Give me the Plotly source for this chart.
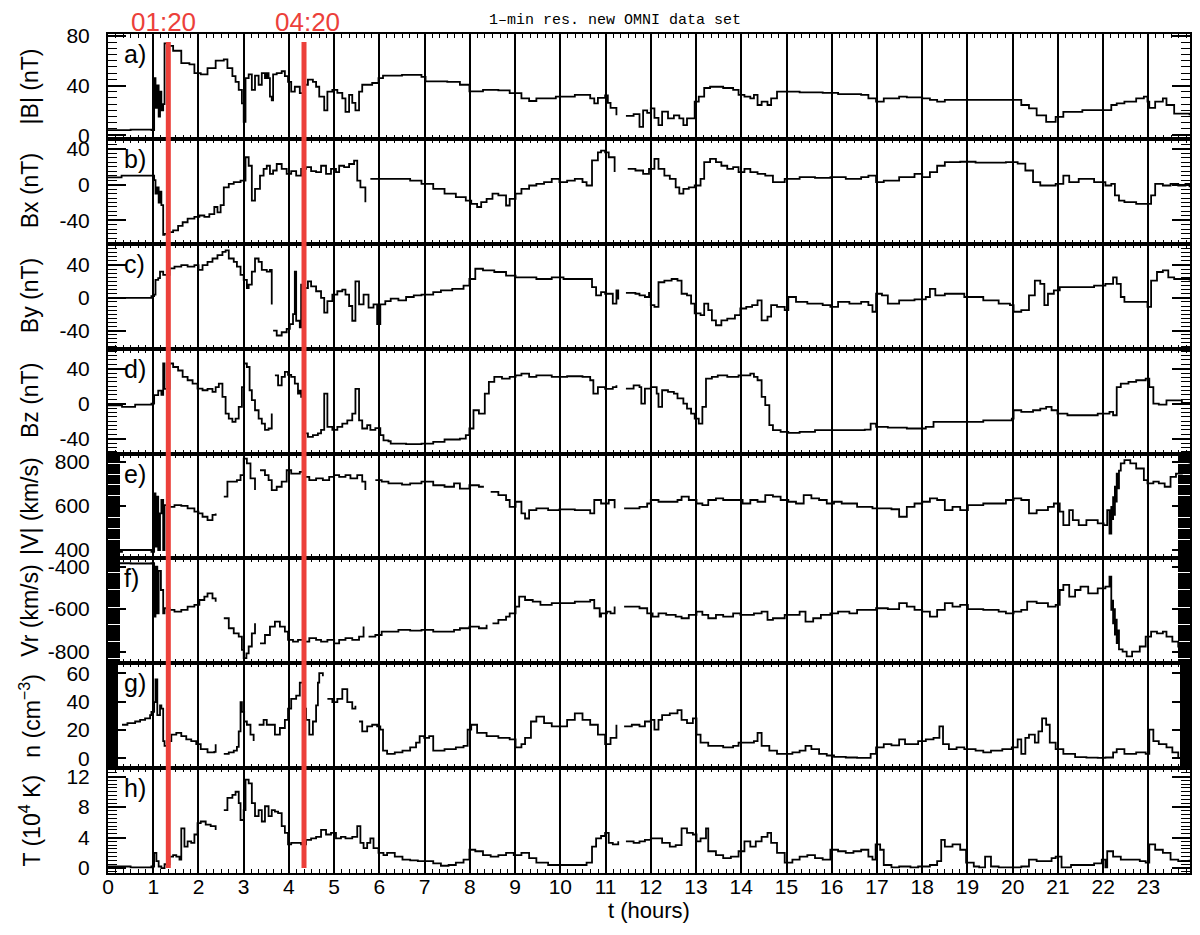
import plotly.graph_objects as go
from plotly.subplots import make_subplots

# ---------------- data ----------------
RED_TIMES = [1 + 20 / 60, 4 + 20 / 60]
RED_LABELS = ["01:20", "04:20"]
PANEL_LETTERS = ["a)", "b)", "c)", "d)", "e)", "f)", "g)", "h)"]
Y_TITLES = ["|B| (nT)", "Bx (nT)", "By (nT)", "Bz (nT)", "|V| (km/s)",
            "Vr (km/s)", "n (cm<sup>−3</sup>)", "T (10<sup>4</sup> K)"]
Y_TICKS = [[0, 40, 80], [-40, 0, 40], [-40, 0, 40], [-40, 0, 40],
           [400, 600, 800], [-800, -600, -400], [0, 20, 40, 60], [0, 4, 8, 12]]
X_TICKS = list(range(24))
TITLE = "1–min res. new OMNI data set"
X_TITLE = "t (hours)"

B_TOTAL = [(0.0,4),(0.5,4.5),(0.96,4),(1.02,46),(1.05,22),(1.09,40),(1.12,15),(1.15,35),(1.18,20),(1.22,25),
(1.25,74),(1.33,72),(1.44,68),(1.55,68),(1.62,58),(1.8,57),(1.91,50),(2.05,49),(2.2,54),(2.38,60),
(2.56,61),(2.64,54),(2.75,47.5),(2.82,43),(2.89,36.5),(2.96,25.6),(3.0,10.7),(3.04,46),(3.11,49),(3.18,36.5),
(3.25,48),(3.33,40.6),(3.4,50),(3.47,46),(3.51,50),(3.55,46),(3.58,31),(3.62,28),(3.65,49),(3.73,50),
(3.84,51.5),(3.91,47.5),(3.98,43),(4.05,35),(4.13,39),(4.24,33.8),(4.35,40.6),(4.42,44.7),(4.53,43),(4.6,39),
(4.67,31),(4.78,20),(4.85,35),(4.96,36.5),(5.07,34),(5.18,29.7),(5.25,18.8),(5.33,32.5),(5.4,26),(5.47,20),
(5.55,35),(5.62,40.6),(5.84,42),(5.98,46),(6.08,48),(6.5,48.5),(6.93,47),(7.02,43.4),(7.5,43),(7.78,40.6),
(7.99,35.2),(8.29,36.5),(8.63,36),(8.88,33.8),(9.14,29.7),(9.31,27.5),(9.47,29.7),(9.9,31),(10.32,32.5),(10.66,29.7),
(10.75,25.6),(10.83,30),(10.99,32),(11.05,26),(11.11,22),(11.24,16),(11.35,None),(11.45,15.6),(11.62,17),(11.75,6.6),(11.83,20),
(11.92,18),(12.0,21.6),(12.08,14),(12.17,8),(12.25,19),(12.38,13.5),(12.51,16),(12.63,13.5),(12.72,8),(12.8,13.5),
(12.89,13.5),(12.97,27),(13.06,31),(13.18,38),(13.31,39),(13.44,39),(13.6,38),(13.82,36.5),(13.94,32.5),(14.07,31),
(14.2,29.7),(14.28,32.5),(14.36,24.3),(14.45,27),(14.58,24.3),(14.66,29.7),(14.79,35),(14.96,35),(15.29,34.5),(15.8,34),
(16.14,33),(16.65,32.5),(16.81,29.7),(16.98,27),(17.15,29.7),(17.49,31),(17.66,30.5),(18.0,29.7),(18.17,28.5),(18.33,27),
(18.5,28.4),(19.35,28.4),(19.98,28.4),(20.19,24.3),(20.36,21.6),(20.53,16),(20.74,10.7),(20.95,14.7),(21.12,18.8),(21.54,20.2),
(22.05,20.2),(22.18,24.3),(22.3,25.6),(22.47,27),(22.73,29.7),(22.9,31),(22.98,27),(23.02,22),(23.15,27),(23.32,29.7),
(23.4,24.3),(23.57,17.4),(23.91,16)]

B_X = [(0.0,8),(0.3,10),(0.96,10),(1.02,5),(1.05,-10),(1.09,-3),(1.12,-20),(1.15,-8),(1.18,-23),(1.22,-56),
(1.25,-55),(1.33,-53),(1.44,-51),(1.55,-46),(1.65,-42),(1.76,-38),(1.91,-36),(2.02,-34.5),(2.13,-36),(2.24,-33),
(2.35,-25),(2.42,-31),(2.49,-23),(2.56,-3),(2.67,0.8),(2.78,2.7),(2.93,4.5),(3.04,30.5),(3.11,21),(3.18,-17.8),
(3.25,-4.8),(3.36,10),(3.44,17.5),(3.51,21),(3.58,12),(3.65,15.7),(3.73,23),(3.84,17.5),(3.95,12),(4.05,15),
(4.16,10),(4.27,17.5),(4.38,19.4),(4.49,15),(4.6,13.8),(4.71,21),(4.82,12),(4.93,17.5),(5.04,13.8),(5.11,21),
(5.22,19.4),(5.33,23),(5.44,26.8),(5.51,4.5),(5.58,-3),(5.69,-19.6),(5.75,None),(5.8,6.4),(5.91,6.4),(6.02,6.4),(6.2,6.4),
(6.51,6.4),(6.68,4.5),(6.93,0.8),(7.19,-4.8),(7.44,-10),(7.69,-14),(7.91,-17.8),(8.03,-21.5),(8.16,-25),(8.25,-19.6),
(8.37,-16),(8.5,-10),(8.63,-12),(8.8,-23.3),(8.88,-16),(9.01,-10),(9.14,-4.8),(9.31,-1),(9.47,0.8),(9.64,2.7),
(9.81,6.4),(9.98,2.7),(10.15,4.5),(10.32,6.4),(10.49,2.7),(10.58,-1),(10.7,27),(10.83,36),(10.9,38),(10.99,36),
(11.07,30.5),(11.2,14),(11.35,None),(11.49,17.5),(11.66,15.7),(11.83,12),(11.96,17.5),(12.08,28.7),(12.17,17.5),(12.3,10),(12.42,6.4),
(12.55,-3),(12.63,-10),(12.72,-4.8),(12.84,-3),(12.97,-1),(13.1,6.4),(13.18,25),(13.31,28.7),(13.44,25),(13.56,21),
(13.69,17.5),(13.82,19.4),(13.94,14),(14.07,17.5),(14.2,14),(14.36,12),(14.53,10),(14.7,2.7),(14.96,6.4),(15.29,8.3),
(15.63,7.5),(15.97,8.3),(16.31,6.4),(16.65,8.3),(16.81,10),(16.98,2.7),(17.15,4.5),(17.49,8.3),(17.83,12),(18.0,8.3),
(18.17,14),(18.33,21),(18.5,25),(18.84,25.5),(19.18,24.5),(19.85,25),(20.11,23.5),(20.28,15.7),(20.45,2.7),(20.61,-1),
(20.95,0.8),(21.12,10),(21.25,2.7),(21.46,6.4),(21.8,2.7),(22.05,-1),(22.18,0.8),(22.26,-12),(22.35,-17.8),(22.47,-19.6),
(22.73,-21.5),(22.98,-21.5),(23.06,-12),(23.15,0.8),(23.32,-1),(23.49,0.8),(23.66,-1),(23.82,0.8),(23.91,-3)]

B_Y = [(0.0,0),(0.5,0),(0.96,2),(1.02,4),(1.05,22),(1.11,24),(1.15,32),(1.22,28),(1.36,36),(1.47,38),
(1.62,40),(1.76,38),(1.91,40),(2.0,34),(2.09,40),(2.2,44),(2.31,48),(2.42,52),(2.53,56),(2.6,58),
(2.67,48),(2.78,44),(2.85,38),(2.93,28),(3.0,22),(3.07,12),(3.11,16),(3.18,32),(3.25,48),(3.33,44),
(3.4,34),(3.51,32),(3.58,34),(3.62,-8),(3.63,None),(3.65,-40),(3.73,-46),(3.84,-42),(3.95,-38),(4.02,-32),(4.09,-20),
(4.13,32),(4.16,-28),(4.24,-36),(4.27,16),(4.35,12),(4.42,20),(4.49,14),(4.6,8),(4.71,0),(4.78,-18),
(4.85,-4),(4.96,4),(5.07,8),(5.18,10),(5.25,4),(5.33,-10),(5.4,-28),(5.47,20),(5.55,-8),(5.65,4),
(5.76,-12),(5.87,-8),(5.95,-32),(6.02,-8),(6.13,-4),(6.25,-1),(6.42,-3),(6.59,1),(6.76,3),(6.93,4),
(7.19,7),(7.36,9),(7.61,11),(7.86,15),(7.99,23),(8.12,35.5),(8.29,33.5),(8.54,31.5),(8.8,27),(9.01,25),
(9.22,25),(9.47,23),(9.81,25),(10.07,23),(10.32,23),(10.58,23),(10.7,13),(10.79,3),(10.9,7),(10.99,5),
(11.16,-7),(11.24,9),(11.28,-2),(11.35,None),(11.45,6),(11.66,5),(11.75,3),(11.87,1),(11.96,6),(12.0,-9),
(12.08,-11),(12.17,19),(12.3,21),(12.46,23),(12.59,21),(12.68,5),(12.8,3),(12.89,-7),(12.97,-19),(13.1,-21),
(13.18,-7),(13.27,-15),(13.35,-27.5),(13.44,-33.5),(13.56,-27.5),(13.69,-25.5),(13.86,-21),(13.98,-13),(14.11,-11),(14.24,-9),
(14.36,-3),(14.45,-27.5),(14.58,-23),(14.66,-9),(14.79,-11),(14.96,-15),(15.04,1),(15.21,-5),(15.46,-7),(15.8,-9),
(15.97,-11),(16.14,-5),(16.39,-7),(16.65,-5),(16.81,-9),(16.9,-17),(16.98,5),(17.11,3),(17.24,-7),(17.49,-3),
(17.83,-2),(18.08,1),(18.17,11),(18.29,3),(18.5,5),(18.93,1),(19.35,-3),(19.69,-7),(19.94,-9),(20.02,-17),
(20.19,-15),(20.36,3),(20.49,21),(20.61,17),(20.7,-9),(20.78,5),(20.91,9),(21.04,13),(21.46,13),(21.8,15),
(22.05,17),(22.22,25),(22.3,17),(22.39,1),(22.47,-5),(22.73,-5),(22.9,-5),(22.98,-11),(23.06,21),(23.19,31.5),
(23.32,33.5),(23.44,25),(23.57,23),(23.91,21)]

B_Z = [(0.0,-1.8),(0.31,-3.7),(0.6,-1),(0.96,0),(1.02,9.7),(1.11,15),(1.18,10),(1.22,46),(1.25,17),(1.36,46),
(1.44,42),(1.55,38),(1.65,30.6),(1.76,26.8),(1.87,23),(1.98,17.3),(2.09,15.4),(2.2,17),(2.31,13.5),(2.38,19),
(2.45,23),(2.53,7.8),(2.6,-11.3),(2.67,-17),(2.75,-20.8),(2.82,-17),(2.89,-3.7),(2.96,19),(3.01,46),(3.07,42),
(3.13,15.4),(3.18,4),(3.25,-7.5),(3.33,-17),(3.4,-22.7),(3.47,-30),(3.55,-28.4),(3.62,-11.3),(3.65,None),(3.69,32.5),(3.76,21),
(3.84,30.6),(3.91,36.3),(3.98,33),(4.05,30.6),(4.13,23),(4.2,11.6),(4.24,15),(4.27,7.8),(4.35,-34),(4.42,-38),
(4.53,-36),(4.64,-34),(4.71,-30),(4.78,11.6),(4.85,-26.5),(4.96,-30),(5.07,-26.5),(5.18,-22.7),(5.29,-19),(5.4,-11.3),
(5.47,17),(5.55,-19),(5.62,-28.4),(5.73,-24.6),(5.8,-30),(5.91,-28),(6.02,-36),(6.09,-42),(6.2,-43),(6.25,-45.6),
(6.59,-46.3),(6.93,-45.6),(7.19,-43.7),(7.44,-41),(7.78,-40),(7.91,-36),(7.99,-28.4),(8.08,-7.5),(8.2,-11.3),(8.33,11.6),
(8.42,24.9),(8.54,30.6),(8.71,28.7),(8.88,30.6),(9.01,32.5),(9.14,34.4),(9.31,30.6),(9.47,32.5),(9.81,30.6),(10.15,31.4),
(10.49,30.6),(10.66,26.8),(10.73,11.6),(10.83,19),(10.99,17),(11.16,19),(11.24,21),(11.35,None),(11.45,17.3),(11.62,21),(11.75,19),
(11.79,0),(11.87,17.3),(12.0,19),(12.13,11.6),(12.17,-3.7),(12.25,15.4),(12.38,13.5),(12.51,11.6),(12.59,6),(12.72,0.1),
(12.8,-5.6),(12.89,-11.3),(12.97,-17),(13.06,-22.7),(13.14,-3.7),(13.22,28.7),(13.35,30.6),(13.48,32.5),(13.69,30.6),(13.94,32.5),
(14.2,34.4),(14.28,30.6),(14.36,26.8),(14.45,7.8),(14.53,-1.7),(14.62,-24.6),(14.7,-30.3),(14.87,-32.2),(15.04,-33.4),(15.29,-32.2),
(15.63,-30.3),(16.31,-30.3),(16.73,-29.6),(16.86,-22.7),(16.98,-26.5),(17.24,-27.5),(17.66,-28.4),(18.08,-26.5),(18.25,-20.8),(18.5,-20.8),
(18.93,-20.8),(19.35,-19),(19.69,-19),(19.98,-17),(20.02,-7.5),(20.19,-9.4),(20.45,-7.5),(20.61,-5.6),(20.74,-3.7),(20.86,-7.5),
(20.99,-11.3),(21.21,-13.2),(21.54,-13.2),(21.88,-11.3),(22.14,-9.4),(22.22,-13.2),(22.3,19),(22.39,23),(22.56,25),(22.73,26.8),
(22.94,28.7),(23.02,19),(23.11,0),(23.23,-1),(23.4,3.9),(23.57,3.9),(23.74,1),(23.91,0)]

V_TOTAL = [(0.0,392),(0.31,400),(0.6,400),(0.96,392),(1.02,657),(1.05,415),(1.07,642),(1.11,400),(1.15,566),(1.18,627),
(1.22,400),(1.25,604),(1.36,596),(1.47,604),(1.62,600),(1.76,589),(1.91,574),(2.0,566),(2.09,551),(2.2,536),
(2.31,559),(2.38,566),(2.47,None),(2.56,642),(2.64,710),(2.75,710),(2.85,717),(2.93,740),(3.0,815),(3.07,793),(3.15,725),
(3.25,672),(3.3,None),(3.36,762),(3.47,740),(3.55,717),(3.62,672),(3.73,687),(3.84,710),(3.95,762),(4.05,747),(4.16,747),
(4.24,755),(4.35,732),(4.45,717),(4.6,725),(4.75,717),(4.89,732),(5.0,740),(5.11,732),(5.25,740),(5.36,725),
(5.51,740),(5.62,710),(5.69,672),(5.8,None),(5.91,717),(6.05,710),(6.2,702),(6.5,697),(6.68,702),(6.93,710),
(7.19,694),(7.44,687),(7.65,702),(7.78,679),(7.99,694),(8.2,687),(8.29,692),(8.38,None),(8.46,664),(8.63,649),(8.8,627),
(8.88,596),(9.01,619),(9.14,566),(9.22,543),(9.31,581),(9.47,589),(9.73,581),(9.98,584),(10.32,581),(10.66,566),
(10.75,627),(10.9,611),(11.07,627),(11.2,589),(11.3,None),(11.41,589),(11.58,589),(11.75,596),(11.92,611),(12.0,627),
(12.17,619),(12.42,619),(12.59,627),(12.68,642),(12.84,627),(13.01,611),(13.14,604),(13.27,627),(13.44,634),(13.6,627),
(13.86,627),(14.03,611),(14.2,627),(14.36,619),(14.53,649),(14.7,642),(14.87,627),(15.04,619),(15.21,611),(15.38,649),
(15.55,634),(15.72,627),(15.89,611),(16.05,619),(16.22,611),(16.39,611),(16.56,596),(16.73,596),(16.9,589),(17.07,589),
(17.32,585),(17.49,551),(17.66,596),(17.83,611),(18.0,619),(18.17,634),(18.33,627),(18.5,581),(18.67,596),(18.84,581),
(19.01,604),(19.35,611),(19.69,611),(19.85,627),(20.02,634),(20.19,627),(20.36,566),(20.53,581),(20.78,596),(20.91,611),
(21.04,574),(21.12,513),(21.25,581),(21.33,536),(21.46,513),(21.63,536),(21.88,521),(22.01,513),(22.09,581),(22.14,475),
(22.18,596),(22.2,540),(22.22,640),(22.24,560),(22.26,687),(22.28,620),(22.3,747),(22.32,680),(22.35,760),(22.39,793),
(22.47,808),(22.6,793),(22.73,770),(22.9,717),(22.98,702),(23.11,710),(23.23,702),(23.36,687),(23.49,732),(23.61,747),
(23.74,777),(23.91,793)]

V_R = [(0.0,-384),(0.5,-385),(0.96,-384),(1.02,-635),(1.05,-400),(1.09,-620),(1.12,-420),(1.17,-510),(1.22,-620),(1.25,-596),
(1.36,-604),(1.47,-612),(1.62,-604),(1.76,-588),(1.91,-580),(2.02,-557),(2.13,-541),(2.2,-526),(2.31,-549),(2.38,-565),
(2.47,None),(2.56,-643),(2.67,-690),(2.78,-714),(2.89,-730),(2.96,-792),(3.0,-831),(3.06,-808),(3.11,-776),(3.18,-714),(3.25,-667),
(3.3,None),(3.36,-761),(3.47,-722),(3.58,-682),(3.69,-659),(3.8,-682),(3.91,-706),(3.98,-745),(4.09,-753),(4.2,-745),(4.31,-753),
(4.45,-737),(4.6,-745),(4.71,-753),(4.85,-745),(5.0,-761),(5.11,-745),(5.25,-737),(5.4,-745),(5.55,-730),(5.65,-682),
(5.7,None),(5.76,-730),(5.91,-722),(6.05,-706),(6.2,-706),(6.42,-698),(6.68,-701),(6.93,-698),(7.19,-706),(7.44,-706),(7.65,-698),
(7.78,-690),(7.99,-682),(8.2,-690),(8.37,-674),(8.43,None),(8.5,-667),(8.63,-651),(8.8,-635),(8.88,-620),(9.01,-588),(9.09,-541),
(9.22,-557),(9.39,-565),(9.56,-580),(9.81,-572),(10.07,-572),(10.32,-565),(10.66,-557),(10.75,-596),(10.87,-635),(10.9,-620),
(11.03,-612),(11.11,-620),(11.2,-588),(11.3,None),(11.41,-588),(11.58,-588),(11.75,-596),(11.92,-620),(12.04,-635),(12.17,-620),
(12.34,-627),(12.55,-635),(12.68,-643),(12.84,-627),(13.01,-612),(13.14,-627),(13.27,-643),(13.44,-627),(13.6,-635),(13.82,-620),
(13.98,-627),(14.11,-627),(14.28,-620),(14.45,-612),(14.58,-651),(14.7,-643),(14.96,-627),(15.13,-627),(15.29,-612),(15.42,-659),
(15.59,-643),(15.76,-627),(15.97,-620),(16.14,-612),(16.39,-620),(16.56,-604),(16.73,-604),(16.98,-596),(17.24,-600),(17.49,-572),
(17.66,-588),(17.83,-604),(18.0,-612),(18.17,-635),(18.33,-604),(18.5,-572),(18.67,-588),(18.84,-580),(19.01,-600),(19.35,-604),
(19.69,-612),(19.85,-620),(20.02,-612),(20.19,-604),(20.32,-565),(20.53,-572),(20.78,-588),(20.95,-580),(21.04,-510),(21.12,-486),
(21.25,-541),(21.38,-510),(21.5,-494),(21.67,-526),(21.88,-502),(22.05,-494),(22.14,-447),(22.18,-604),(22.2,-560),(22.22,-667),
(22.24,-600),(22.26,-720),(22.28,-650),(22.3,-760),(22.33,-700),(22.35,-790),(22.43,-800),(22.52,-823),(22.64,-800),(22.81,-776),
(22.94,-730),(23.06,-706),(23.19,-714),(23.32,-706),(23.4,-730),(23.53,-753),(23.66,-776),(23.78,-792),(23.91,-808)]

DENSITY = [(0.31,23.6),(0.43,24.7),(0.6,25.9),(0.71,27),(0.82,28.1),(0.93,30.4),(0.96,32.7),(1.02,39.6),(1.05,55.6),(1.09,30.4),
(1.15,37.3),(1.18,35),(1.22,12.1),(1.25,8.7),(1.33,12.1),(1.4,16.7),(1.51,17.9),(1.62,15.6),(1.73,13.3),(1.84,12.1),
(1.95,9.9),(2.05,6.4),(2.2,4.1),(2.35,4.5),(2.38,9.9),(2.47,None),(2.56,3),(2.67,4.1),(2.78,5.3),(2.85,8),(2.89,19),
(2.93,39.6),(2.96,32.7),(3.01,25.9),(3.07,23.6),(3.15,16.7),(3.22,12.1),(3.27,None),(3.33,23.6),(3.44,27),(3.51,23.6),(3.62,23.6),
(3.69,16.7),(3.8,21.3),(3.91,27),(3.98,35),(4.05,41.9),(4.16,44.1),(4.24,53.3),(4.31,35),(4.38,27),(4.45,16.7),
(4.53,25.9),(4.6,37.3),(4.64,53.3),(4.67,60.1),(4.75,57.9),(4.8,None),(4.85,41.9),(4.96,39.6),(5.07,41.9),(5.18,48.7),(5.29,39.6),
(5.4,35),(5.47,37),(5.51,None),(5.55,25.9),(5.62,19),(5.73,22.4),(5.84,23.6),(5.95,22.4),(6.02,20.1),(6.08,5.3),(6.17,3),
(6.34,4.1),(6.51,5.3),(6.68,7.6),(6.81,11),(6.89,15.6),(6.99,14.4),(7.1,15.6),(7.19,5.3),(7.44,6.4),(7.69,7.6),
(7.86,8.7),(7.95,20.1),(8.03,23.6),(8.16,17.9),(8.37,15.6),(8.63,14.4),(8.88,13.3),(9.01,7.6),(9.14,9.9),(9.22,14.4),
(9.35,25.9),(9.47,29.3),(9.64,24.7),(9.81,22.4),(9.98,22.4),(10.15,27),(10.32,31.6),(10.49,27),(10.66,23.6),(10.83,16.7),
(10.99,9.9),(11.11,14.4),(11.24,23.6),(11.32,None),(11.41,22.4),(11.58,23.6),(11.75,22.4),(11.87,25.9),(12.0,27),(12.08,20.1),
(12.17,27),(12.25,30.4),(12.42,31.6),(12.59,33.9),(12.68,27),(12.8,24.7),(12.93,28.1),(13.01,16.7),(13.1,11),(13.27,8.7),
(13.44,8.7),(13.6,7.6),(13.82,8.7),(13.94,11),(14.11,11),(14.28,12.1),(14.36,17.9),(14.45,8.7),(14.62,5.3),(14.79,3),
(14.96,3),(15.13,4.1),(15.29,5.3),(15.42,8.7),(15.55,6.4),(15.72,3),(15.89,1.9),(16.05,1),(16.31,0.5),(16.56,0.3),
(16.73,0.2),(16.86,3),(16.98,7.6),(17.15,9.9),(17.32,9),(17.49,13.3),(17.62,9.9),(17.74,10),(17.91,12.1),(18.08,13.3),
(18.25,14.4),(18.38,22.4),(18.46,9.9),(18.59,6.4),(18.76,7.6),(18.93,6.4),(19.18,5.3),(19.35,4.1),(19.52,5.3),(19.77,6.4),
(19.98,7.6),(20.11,13.3),(20.19,3),(20.28,14.4),(20.36,16.7),(20.49,11),(20.57,19),(20.65,28.1),(20.74,23.6),(20.82,11),
(20.95,6.4),(21.12,3),(21.38,0.7),(21.63,0.4),(21.88,0.2),(22.05,0.5),(22.22,4.1),(22.3,6.4),(22.47,3),(22.73,4.1),
(22.94,3),(23.02,20.1),(23.11,12.1),(23.23,9.9),(23.4,7.6),(23.53,4.1),(23.66,0.5)]

TEMPERATURE = [(0.0,0.2),(0.5,0.1),(0.96,0.2),(1.02,2),(1.07,0.9),(1.12,0.2),(1.18,0),(1.25,0.5),(1.36,1.5),(1.44,1.7),
(1.51,1.5),(1.58,1.1),(1.62,5.2),(1.69,2.8),(1.76,3.5),(1.84,3.3),(1.91,4.4),(1.98,5.9),(2.05,6.1),(2.16,5.7),
(2.27,5.5),(2.38,5),(2.47,None),(2.56,7.6),(2.64,9.2),(2.75,9.6),(2.82,10),(2.89,8.5),(2.93,6.3),(3.0,7.6),(3.04,11.6),
(3.11,11.1),(3.18,8.5),(3.25,6.8),(3.33,7.6),(3.4,6.1),(3.47,8.1),(3.55,6.8),(3.62,7.6),(3.69,7.4),(3.76,7.2),
(3.84,5.5),(3.91,4.6),(3.98,3.1),(4.05,3.3),(4.16,3.3),(4.27,3.1),(4.38,3.7),(4.49,3.9),(4.6,4.1),(4.71,5),
(4.82,4.4),(4.93,4.6),(5.04,3.9),(5.15,4.1),(5.25,3.9),(5.4,4.1),(5.51,5.5),(5.58,3.3),(5.65,2.6),(5.73,3.3),
(5.8,3.9),(5.87,2.6),(5.98,2),(6.09,1.7),(6.17,2),(6.34,1.5),(6.51,1.1),(6.68,1.0),(6.85,0.9),(6.99,0.9),
(7.19,0.6),(7.36,0.3),(7.53,0.4),(7.69,0.7),(7.86,1.1),(7.99,2.4),(8.12,2.2),(8.29,1.7),(8.46,1.5),(8.63,1.7),
(8.8,2),(8.97,1.7),(9.14,2),(9.31,1.3),(9.47,0.7),(9.73,0.4),(9.98,0.4),(10.32,0.4),(10.58,0.7),(10.7,2.8),
(10.79,3.9),(10.9,4.2),(10.99,4.6),(11.07,3.3),(11.16,3.1),(11.28,3.5),(11.36,None),(11.45,3.5),(11.62,3.3),(11.75,3.5),(11.87,3.7),
(12.0,3.9),(12.13,3.9),(12.25,3.3),(12.42,2.8),(12.55,3),(12.68,5.2),(12.8,4.6),(12.93,4.4),(13.01,3.5),(13.1,3.9),
(13.22,5.2),(13.27,2.2),(13.44,1.7),(13.6,1.3),(13.77,1.5),(13.94,2.2),(14.07,3.5),(14.2,2.8),(14.32,3.5),(14.45,4.1),
(14.58,4.6),(14.66,3.3),(14.79,2),(14.96,0.7),(15.13,1.1),(15.29,1.5),(15.46,1.7),(15.63,1.3),(15.8,1.1),(15.97,2.4),
(16.14,2.2),(16.31,2),(16.48,2.2),(16.65,2.4),(16.81,1.5),(16.9,1.1),(16.97,3.1),(17.07,2.4),(17.15,0.4),(17.32,0.1),
(17.49,0.2),(17.74,0.1),(17.91,0.2),(18.17,0.4),(18.33,0.9),(18.42,3.7),(18.5,2.8),(18.67,3.1),(18.84,2.4),(18.97,0.7),
(19.14,0.2),(19.26,0.1),(19.39,1.5),(19.52,0.2),(19.69,0.1),(19.85,0.1),(19.98,0.1),(20.19,0.2),(20.36,1.1),(20.53,0.9),
(20.7,0.9),(20.86,1.3),(20.95,1.5),(21.08,0.1),(21.29,0.4),(21.54,0.4),(21.8,0.6),(21.97,1.1),(22.05,0.1),(22.09,2.2),
(22.22,1.5),(22.39,1.1),(22.64,1.1),(22.81,0.9),(22.94,0.7),(23.02,3.1),(23.15,2.4),(23.32,2),(23.49,1.1),(23.66,0.9),
(23.82,0.9),(23.91,1.1)]

SERIES = [B_TOTAL, B_X, B_Y, B_Z, V_TOTAL, V_R, DENSITY, TEMPERATURE]

# ---------------- styling ----------------
Y_RANGES = [[-3, 81.5], [-66, 51], [-62, 66], [-57, 63], [362, 838],
            [-855, -361], [-7, 67], [-0.65, 13.1]]
MINOR_DTICK = [5, 5, 5, 5, 5, 5, 0.25, 0.5]
MINOR_LEN = [9, 9, 9, 9, 12, 12, 10, 9]
X_RANGE = [0, 23.92]
RED_LABEL_DX = [-0.1, 0.07]
FONT = "Liberation Sans, Arial, sans-serif"
RED = "rgb(236,64,58)"

# The page body adds an 8 px offset; margins compensate so the plot area
# lands at x 108..1190, y 34..873 in the window.
BODY = 8
W, H = 1200, 935
PLOT_L, PLOT_R, PLOT_T, PLOT_B = 108, 1190, 34, 873
ML = PLOT_L - BODY
MT = PLOT_T - BODY
MR = W + BODY - PLOT_R
MB = H + BODY - PLOT_B
PW = PLOT_R - PLOT_L
PH = PLOT_B - PLOT_T

fig = make_subplots(rows=8, cols=1, shared_xaxes=True, vertical_spacing=0)

for i, pts in enumerate(SERIES):
    t = [p[0] for p in pts]
    v = [p[1] for p in pts]
    fig.add_trace(go.Scatter(x=t, y=v, mode="lines",
                             line=dict(color="black", width=1.8, shape="hv"),
                             connectgaps=False, showlegend=False, hoverinfo="skip"),
                  row=i + 1, col=1)
    fig.update_yaxes(row=i + 1, col=1, range=Y_RANGES[i], tickmode="array",
                     tickvals=Y_TICKS[i], ticktext=[str(k) for k in Y_TICKS[i]],
                     ticks="inside", ticklen=18, tickwidth=1.5, tickcolor="black",
                     showline=True, linewidth=2, linecolor="black", mirror="ticks",
                     zeroline=False, showgrid=False, ticklabelstandoff=12,
                     automargin=False,
                     tickfont=dict(family=FONT, size=21, color="black"),
                     minor=dict(tickmode="linear", tick0=0, dtick=MINOR_DTICK[i],
                                ticks="inside", ticklen=MINOR_LEN[i], tickwidth=1,
                                tickcolor="black", showgrid=False))

fig.update_xaxes(range=X_RANGE, tickmode="array", tickvals=X_TICKS,
                 showgrid=True, gridcolor="black", gridwidth=2,
                 ticks="inside", ticklen=5, tickwidth=1.5, tickcolor="black",
                 showline=True, linewidth=2, linecolor="black", mirror="ticks",
                 zeroline=False, automargin=False,
                 minor=dict(tickmode="linear", tick0=0, dtick=1 / 6, ticks="inside",
                            ticklen=4, tickwidth=1, tickcolor="black", showgrid=False))
fig.update_xaxes(row=8, col=1, showticklabels=True, ticklabelstandoff=-6,
                 tickfont=dict(family=FONT, size=21, color="black"),
                 title=dict(text=X_TITLE, font=dict(family=FONT, size=22, color="black"),
                            standoff=0))

annotations = []
panel_h = 1.0 / 8
for i in range(8):
    top = 1 - i * panel_h
    annotations.append(dict(text=Y_TITLES[i], xref="paper", yref="paper",
                            x=(30 - PLOT_L) / PW, y=top - panel_h / 2, textangle=-90,
                            showarrow=False, xanchor="center", yanchor="middle",
                            font=dict(family=FONT, size=23, color="black")))
    annotations.append(dict(text=PANEL_LETTERS[i], xref="paper", yref="paper",
                            x=(122 - PLOT_L) / PW, y=top - 4 / PH, showarrow=False,
                            xanchor="left", yanchor="top",
                            font=dict(family=FONT, size=25, color="black")))
for tt, lab, dx in zip(RED_TIMES, RED_LABELS, RED_LABEL_DX):
    annotations.append(dict(text=lab, xref="x", yref="paper", x=tt + dx,
                            y=1 + (PLOT_T - 22) / PH, showarrow=False, xanchor="center",
                            yanchor="middle", font=dict(family=FONT, size=26, color=RED)))
annotations.append(dict(text=TITLE, xref="paper", yref="paper", x=(615 - PLOT_L) / PW,
                        y=1 + (PLOT_T - 21) / PH, showarrow=False, xanchor="center",
                        yanchor="middle",
                        font=dict(family="Liberation Mono", size=15, color="black")))

shapes = []
for tt in RED_TIMES:
    shapes.append(dict(type="line", xref="x", yref="paper", x0=tt, x1=tt,
                       y0=5 / PH, y1=1 - 8 / PH, line=dict(color=RED, width=5),
                       layer="above"))

fig.update_layout(width=W, height=H,
                  margin=dict(l=ML, r=MR, t=MT, b=MB, autoexpand=False),
                  paper_bgcolor="white", plot_bgcolor="white",
                  annotations=annotations, shapes=shapes, showlegend=False)

fig.write_html("out.html")
